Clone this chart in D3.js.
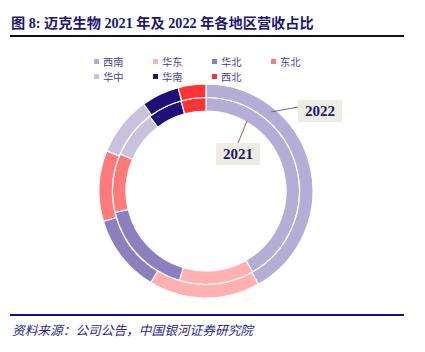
<!DOCTYPE html>
<html>
<head>
<meta charset="utf-8">
<script src="https://cdn.jsdelivr.net/npm/d3@7"></script>
<style>
  body { margin: 0; background: #fff; }
  svg { display: block; }
</style>
</head>
<body>
<div id="chart"></div>
<script>
const WIDTH = 425
const HEIGHT = 352

// données (% du chiffre d'affaires)
const regions = ["西南", "华东", "华北", "东北", "华中", "华南", "西北"]
const share2022 = [41.9, 16.8, 11.8, 10.7, 9.0, 5.7, 4.2]
const share2021 = [41.7, 12.9, 16.7, 10.2, 8.2, 6.0, 4.3]
const colors = ["#b4aed6", "#ffb0b0", "#8b7fbe", "#ff7b7b", "#c9c2dc", "#1f0f7a", "#ff3333"]

const svg = d3.select("#chart")
    .append("svg")
    .attr("width", WIDTH)
    .attr("height", HEIGHT)

// titre
svg.append("text")
    .attr("x", 11)
    .attr("y", 28)
    .attr("font-family", "'Liberation Serif', 'Noto Sans CJK SC'")
    .attr("font-weight", "bold")
    .attr("font-size", 14.2)
    .attr("fill", "#1c1670")
    .text("图 8:  迈克生物 2021 年及 2022 年各地区营收占比")

svg.append("line")
    .attr("x1", 10).attr("x2", 404)
    .attr("y1", 36).attr("y2", 36)
    .attr("stroke", "#111").attr("stroke-width", 2)

// légende
const color = d3.scaleOrdinal().domain(regions).range(colors)
const legend = svg.append("g")
    .selectAll("g")
    .data(regions)
    .enter()
    .append("g")
    .attr("transform", (d, i) => `translate(${94 + (i % 4) * 59},${61.5 + Math.floor(i / 4) * 15})`)

legend.append("rect")
    .attr("x", 0).attr("y", -2.5)
    .attr("width", 5).attr("height", 5)
    .attr("fill", d => color(d))

legend.append("text")
    .attr("x", 9)
    .attr("y", 4)
    .attr("font-family", "'Noto Sans CJK SC'")
    .attr("font-size", 10.2)
    .attr("fill", "#4a3f96")
    .text(d => d)

// anneaux
const cx = 206, cy = 191
const pie = d3.pie().sort(null).value(d => d.v)
const g = svg.append("g").attr("transform", `translate(${cx},${cy})`)

function ring(values, r0, r1) {
    const arc = d3.arc().innerRadius(r0).outerRadius(r1)
    g.append("g")
        .selectAll("path")
        .data(pie(values.map((v, i) => ({ k: regions[i], v: v }))))
        .enter()
        .append("path")
        .attr("d", arc)
        .attr("fill", d => color(d.data.k))
        .attr("stroke", "#fff")
        .attr("stroke-width", 1.2)
}
ring(share2021, 80, 93.5)
ring(share2022, 93.5, 107)

// étiquettes des années
function tag(label, x, y, lx1, ly1, lx2, ly2, lineColor) {
    svg.append("line")
        .attr("x1", lx1).attr("y1", ly1)
        .attr("x2", lx2).attr("y2", ly2)
        .attr("stroke", lineColor).attr("stroke-width", 1)
    svg.append("rect")
        .attr("x", x).attr("y", y)
        .attr("width", 44).attr("height", 22)
        .attr("fill", "#eeede3")
    svg.append("text")
        .attr("x", x + 22).attr("y", y + 16)
        .attr("text-anchor", "middle")
        .attr("font-family", "'Liberation Serif'")
        .attr("font-weight", "bold")
        .attr("font-size", 15)
        .attr("fill", "#1c1670")
        .text(label)
}
tag("2022", 298, 100, 298, 107, 271, 112, "#6e6690")
tag("2021", 216, 143, 238, 143, 247, 121, "#a05a5a")

// source
svg.append("line")
    .attr("x1", 10).attr("x2", 404)
    .attr("y1", 315).attr("y2", 315)
    .attr("stroke", "#1a0a8c").attr("stroke-width", 2)

svg.append("text")
    .attr("x", 12)
    .attr("y", 335)
    .attr("font-family", "'Noto Sans CJK SC'")
    .attr("font-style", "italic")
    .attr("font-size", 12.7)
    .attr("fill", "#2a1f8c")
    .text("资料来源：公司公告，中国银河证券研究院")
</script>
</body>
</html>
